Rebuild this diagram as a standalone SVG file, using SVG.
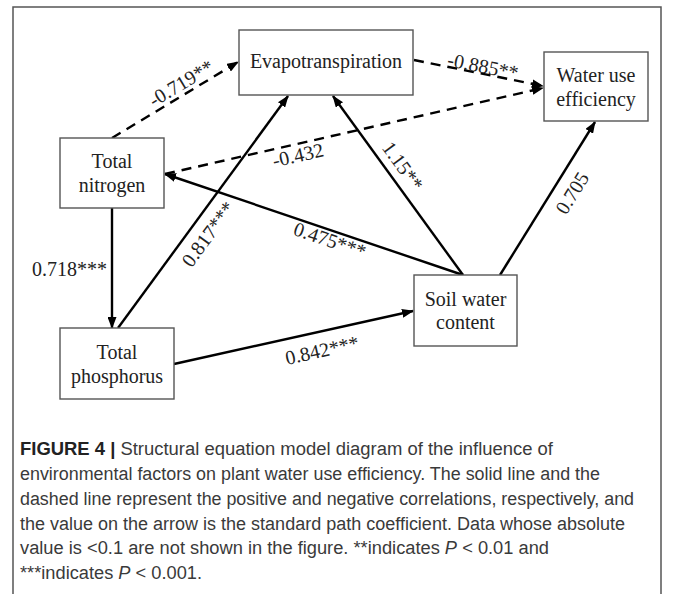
<svg xmlns="http://www.w3.org/2000/svg" width="673" height="594" viewBox="0 0 673 594">
<defs>
<marker id="ah" viewBox="0 0 12 9" refX="11" refY="4.5" markerWidth="12" markerHeight="9" orient="auto" markerUnits="userSpaceOnUse"><path d="M0,0 L12,4.5 L0,9 z" fill="#000"/></marker>
</defs>
<style>
.box{fill:#fff;stroke:#555;stroke-width:1.4}
.nt{font-family:"Liberation Serif","Times New Roman",serif;font-size:20px;fill:#222;text-anchor:middle}
.lb{font-family:"Liberation Serif","Times New Roman",serif;font-size:20px;fill:#222;text-anchor:middle}
.ln{fill:none;stroke:#000;stroke-width:2.4}
.ds{stroke-dasharray:10 7}
.cap{font-family:"Liberation Sans",Arial,sans-serif;font-size:18px;fill:#3a3a3a}
</style>
<rect width="673" height="594" fill="#fff"/>
<path d="M13,600 L13,7 L661,7 L661,600" fill="none" stroke="#555" stroke-width="1.5"/>

<g id="connectors">
<line class="ln ds" x1="112" y1="138" x2="238" y2="62" marker-end="url(#ah)"/>
<line class="ln ds" x1="414" y1="60" x2="543" y2="86" marker-end="url(#ah)"/>
<line class="ln ds" x1="165" y1="174" x2="543" y2="88" marker-end="url(#ah)"/>
<line class="ln" x1="118" y1="328" x2="288" y2="96" marker-end="url(#ah)"/>
<line class="ln" x1="463" y1="275" x2="333" y2="96" marker-end="url(#ah)"/>
<line class="ln" x1="463" y1="275" x2="165" y2="174" marker-end="url(#ah)"/>
<line class="ln" x1="500" y1="275" x2="595" y2="122" marker-end="url(#ah)"/>
<line class="ln" x1="112" y1="208" x2="112" y2="328" marker-end="url(#ah)"/>
<line class="ln" x1="174" y1="364" x2="413" y2="311" marker-end="url(#ah)"/>
<text class="lb" transform="translate(181,83) rotate(-31)" y="7">-0.719**</text>
<text class="lb" transform="translate(483,66) rotate(11)" y="7">-0.885**</text>
<text class="lb" transform="translate(298,155) rotate(-12.7)" y="7">-0.432</text>
<text class="lb" transform="translate(208,234) rotate(-53.8)" y="7">0.817***</text>
<text class="lb" transform="translate(403,166) rotate(54)" y="7">1.15**</text>
<text class="lb" transform="translate(330,240) rotate(18.7)" y="7">0.475***</text>
<text class="lb" transform="translate(572,193) rotate(-58)" y="7">0.705</text>
<text class="lb" transform="translate(322,350) rotate(-12.5)" y="7">0.842***</text>
<text class="lb" x="107" y="276" style="text-anchor:end">0.718***</text>
</g>

<g id="evapotranspiration">
<rect class="box" x="239" y="30" width="174" height="65"/>
<text class="nt" x="326" y="68">Evapotranspiration</text>
</g>
<g id="water-use-efficiency">
<rect class="box" x="544" y="52" width="104" height="69"/>
<text class="nt" x="596" y="82">Water use</text>
<text class="nt" x="596" y="106">efficiency</text>
</g>
<g id="total-nitrogen">
<rect class="box" x="60" y="138" width="104" height="70"/>
<text class="nt" x="112" y="168">Total</text>
<text class="nt" x="112" y="192">nitrogen</text>
</g>
<g id="total-phosphorus">
<rect class="box" x="60" y="328" width="114" height="71"/>
<text class="nt" x="117" y="359">Total</text>
<text class="nt" x="117" y="383">phosphorus</text>
</g>
<g id="soil-water-content">
<rect class="box" x="414" y="275" width="103" height="71"/>
<text class="nt" x="465.5" y="306">Soil water</text>
<text class="nt" x="465.5" y="329">content</text>
</g>

<g id="caption">
<text class="cap" x="20" y="455" textLength="533" lengthAdjust="spacingAndGlyphs"><tspan font-weight="bold" fill="#222">FIGURE 4 |</tspan> Structural equation model diagram of the influence of</text>
<text class="cap" x="20" y="480" textLength="580" lengthAdjust="spacingAndGlyphs">environmental factors on plant water use efficiency. The solid line and the</text>
<text class="cap" x="20" y="505" textLength="614" lengthAdjust="spacingAndGlyphs">dashed line represent the positive and negative correlations, respectively, and</text>
<text class="cap" x="20" y="530" textLength="605" lengthAdjust="spacingAndGlyphs">the value on the arrow is the standard path coefficient. Data whose absolute</text>
<text class="cap" x="20" y="554" textLength="529" lengthAdjust="spacingAndGlyphs">value is &lt;0.1 are not shown in the figure. **indicates <tspan font-style="italic">P</tspan> &lt; 0.01 and</text>
<text class="cap" x="20" y="579" textLength="182" lengthAdjust="spacingAndGlyphs">***indicates <tspan font-style="italic">P</tspan> &lt; 0.001.</text>
</g>
</svg>
